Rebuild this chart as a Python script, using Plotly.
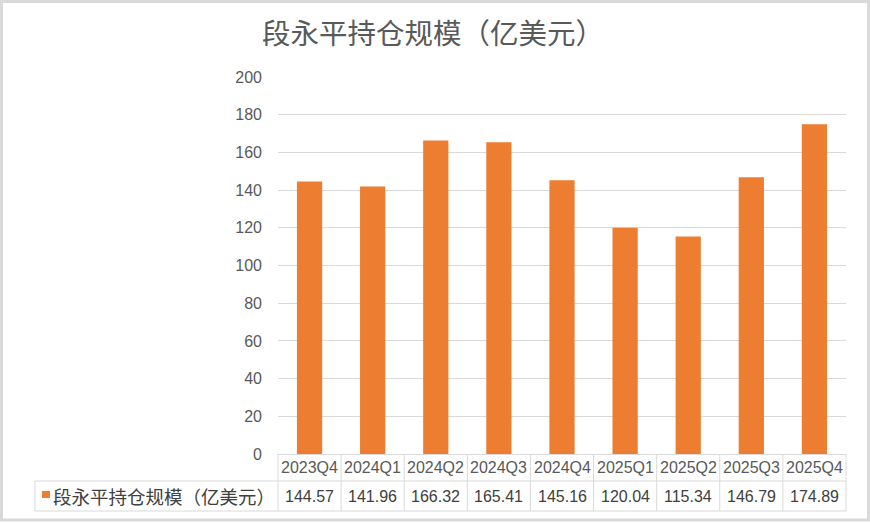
import plotly.graph_objects as go

# 数据
quarters = ["2023Q4", "2024Q1", "2024Q2", "2024Q3", "2024Q4",
            "2025Q1", "2025Q2", "2025Q3", "2025Q4"]
holdings = [144.57, 141.96, 166.32, 165.41, 145.16, 120.04, 115.34, 146.79, 174.89]
series_name = "段永平持仓规模（亿美元）"
title_text = "段永平持仓规模（亿美元）"

ORANGE = "#ED7D31"
GRID = "#D9D9D9"
TXT = "#595959"
CELL_FONT = "Liberation Sans, Arial, sans-serif"
CJK_FONT = "Noto Sans CJK SC"

W, H = 870, 523
L, R, T, B = 278, 24, 77, 69
pw, ph = W - L - R, H - T - B


def px_x(x):
    return (x - L) / pw


def px_y(y):
    return (H - B - y) / ph


fig = go.Figure()
fig.add_trace(go.Bar(x=list(range(len(quarters))), y=holdings,
                     marker=dict(color=ORANGE, line=dict(width=0)),
                     name=series_name, showlegend=False))

n = len(quarters)
shapes = []
annotations = []

# 表格：行边界
row1_top, row1_bot, row2_bot = 454, 481, 511
tbl_left = 35
for y in (row1_bot, row2_bot):
    shapes.append(dict(type="line", xref="paper", yref="paper",
                       x0=px_x(tbl_left), x1=1, y0=px_y(y), y1=px_y(y),
                       line=dict(color=GRID, width=1)))
for k in range(n + 1):
    xp = k / n
    shapes.append(dict(type="line", xref="paper", yref="paper",
                       x0=xp, x1=xp, y0=px_y(row1_top), y1=px_y(row2_bot),
                       line=dict(color=GRID, width=1)))
shapes.append(dict(type="line", xref="paper", yref="paper",
                   x0=px_x(tbl_left), x1=px_x(tbl_left),
                   y0=px_y(row1_bot), y1=px_y(row2_bot),
                   line=dict(color=GRID, width=1)))

# 外框
shapes.append(dict(type="rect", xref="paper", yref="paper",
                   x0=px_x(1.5), x1=px_x(W - 1.5), y0=px_y(H - 3), y1=px_y(1.5),
                   line=dict(color=GRID, width=3)))

# 图例方块
shapes.append(dict(type="rect", xref="paper", yref="paper",
                   x0=px_x(42), x1=px_x(50), y0=px_y(498), y1=px_y(491),
                   fillcolor=ORANGE, line=dict(width=0)))

for i, (q, v) in enumerate(zip(quarters, holdings)):
    annotations.append(dict(x=i, y=px_y(467), xref="x", yref="paper",
                            xanchor="center", yanchor="middle",
                            text=q, showarrow=False,
                            font=dict(family=CELL_FONT, size=16, color=TXT)))
    annotations.append(dict(x=i, y=px_y(496), xref="x", yref="paper",
                            xanchor="center", yanchor="middle",
                            text=f"{v:.2f}", showarrow=False,
                            font=dict(family=CELL_FONT, size=16, color="#404040")))

annotations.append(dict(x=px_x(51), y=px_y(495.5),
                        xref="paper", yref="paper", xanchor="left", yanchor="middle",
                        text=series_name, showarrow=False,
                        font=dict(family=CJK_FONT, size=18.5, color="#404040")))

fig.update_layout(
    width=W, height=H,
    margin=dict(l=L, r=R, t=T, b=B),
    paper_bgcolor="white", plot_bgcolor="white",
    bargap=0.6,
    title=dict(text=title_text, xref="container", x=433 / W, xanchor="center",
               yref="container", y=(H - 34) / H, yanchor="middle",
               font=dict(family=CJK_FONT, size=28.5, color=TXT)),
    xaxis=dict(range=[-0.5, n - 0.5], showticklabels=False, showgrid=False,
               zeroline=False, showline=False, ticks=""),
    yaxis=dict(range=[0, 200], dtick=20, showgrid=True, gridcolor=GRID, gridwidth=1,
               zeroline=True, zerolinecolor=GRID, zerolinewidth=1,
               ticklabelstandoff=15,
               tickfont=dict(family=CELL_FONT, size=16, color=TXT)),
    shapes=shapes,
    annotations=annotations,
)

# 去掉页面默认边距，使图表贴齐窗口
fig.write_html("out.html", config={"displayModeBar": False},
               post_script="document.body.style.margin='0';")
